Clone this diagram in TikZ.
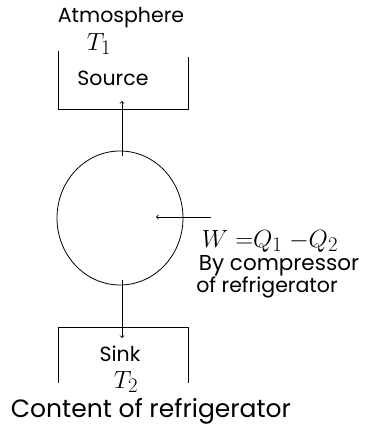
\documentclass[tikz,border=0pt]{standalone}
\usepackage{fontspec}
\setmainfont{Poppins}
\usetikzlibrary{shapes.geometric}
\tikzset{
  lbl/.style={inner sep=0pt, font=\fontsize{20.5}{22}\selectfont},
  sym/.style={inner sep=0pt, font=\fontsize{28}{30}\selectfont},
  wall/.style={line width=0.9pt},
  flow/.style={line width=0.8pt, ->}
}
\begin{document}
\begin{tikzpicture}[x=1pt,y=-1pt]
\useasboundingbox (0,0) rectangle (366,434);
% source reservoir
\coordinate (s1) at (58,51);
\coordinate (s2) at (58,109);
\coordinate (s3) at (188,109);
\coordinate (s4) at (188,57);
\draw[wall] (s1) -- (s2) -- (s3) -- (s4);
% sink reservoir
\coordinate (k1) at (58,383);
\coordinate (k2) at (58,327);
\coordinate (k3) at (188,327);
\coordinate (k4) at (188,383);
\draw[wall] (k1) -- (k2) -- (k3) -- (k4);
% engine
\node[ellipse, draw, line width=0.8pt, minimum width=126pt, minimum height=134pt, inner sep=0pt] (eng) at (120,218) {};
\coordinate (up0) at (122,156);
\coordinate (up1) at (122,101);
\coordinate (dn0) at (122,280);
\coordinate (dn1) at (122,338);
\coordinate (w0) at (211,217);
\coordinate (w1) at (156,217);
\draw[flow] (up0) -- (up1);
\draw[flow] (dn0) -- (dn1);
\draw[flow] (w0) -- (w1);
% labels
\node[lbl] (atm) at (121,18) {Atmosphere};
\node[sym] (t1) at (99,44) {$T_1$};
\node[lbl] (src) at (113,78) {Source};
\node[lbl] (snk) at (120,354) {Sink};
\node[sym] (t2) at (126,382) {$T_2$};
\node[lbl, font=\fontsize{25}{27}\selectfont] (cnt) at (151,411) {Content of refrigerator};
\node[sym, font=\fontsize{30}{32}\selectfont] (weq) at (270,241) {$W\;{=}Q_1\;{-}Q_2$};
\node[lbl, font=\fontsize{21.5}{23}\selectfont] (by) at (279,266) {By compressor};
\node[lbl] (of) at (267,287) {of refrigerator};
\end{tikzpicture}
\end{document}
